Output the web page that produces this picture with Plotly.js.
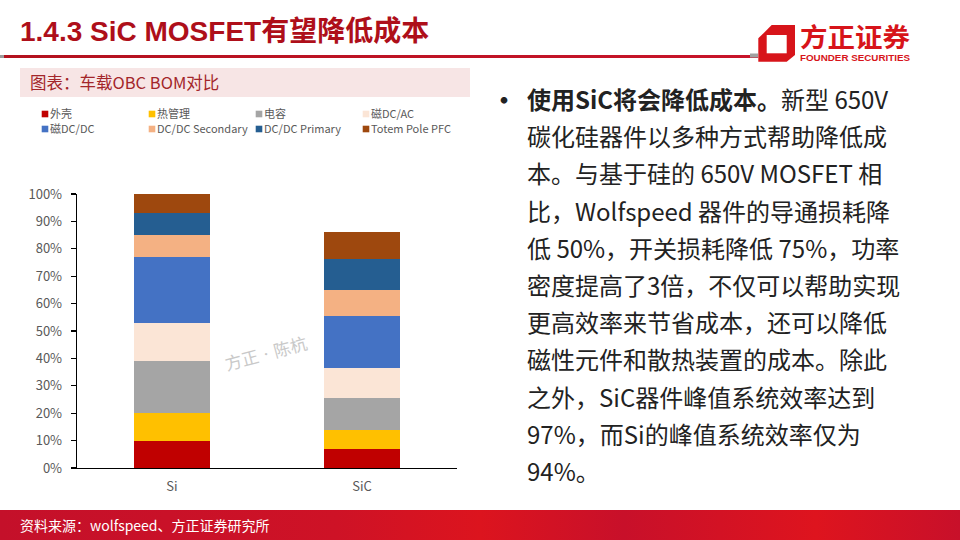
<!DOCTYPE html>
<html>
<head>
<meta charset="utf-8">
<script src="https://cdn.plot.ly/plotly-3.0.1.min.js"></script>
<style>
  html, body { margin:0; padding:0; width:960px; height:540px; overflow:hidden; background:#fff; font-family:"Noto Sans CJK SC","Noto Sans",sans-serif; }
  #title { position:absolute; left:20px; top:14px; font-family:"Liberation Sans","Noto Sans CJK SC",sans-serif; font-weight:bold; font-size:28px; color:#AE0F1A; white-space:nowrap; line-height:36px; }
  #rule { position:absolute; left:0; top:55px; width:758px; height:3px; background:linear-gradient(90deg,#9a9a9a 0,#9a9a9a 4px,#B3121E 4px,#C8142A 100%); }
  #subbox { position:absolute; left:20px; top:68px; width:450px; height:29px; background:#F7E5E5; }
  #subtitle { position:absolute; left:30px; top:68px; height:29px; line-height:29px; font-size:16.5px; color:#A3262A; white-space:nowrap; }
  #bullet { position:absolute; left:491px; top:80px; font-size:26px; line-height:37.2px; color:#222; font-weight:bold; }
  #body { position:absolute; left:527px; top:80px; font-size:24px; line-height:37.2px; color:#222; white-space:nowrap; }
  #footer { position:absolute; left:0; top:510px; width:960px; height:30px; background:linear-gradient(90deg,#C4102A 0%,#CE1226 35%,#DC141E 50%,#C8102A 65%,#DE141E 85%,#C8102A 100%); }
  #source { position:absolute; left:20px; top:510px; height:30px; line-height:30px; font-size:14px; color:#fff; white-space:nowrap; }
  #logo { position:absolute; left:0; top:0; }
  #chart { position:absolute; left:0; top:0; width:960px; height:540px; z-index:2; }
</style>
</head>
<body>
<div id="title">1.4.3 SiC MOSFET有望降低成本</div>
<div id="rule"></div>
<svg id="logo" width="960" height="80" viewBox="0 0 960 80">
  <rect x="750" y="53.5" width="8" height="4" fill="#a0a0a0"/>
  <path d="M771.7,25 L795,25 L795,55 L786.7,61.7 L758.3,61.7 L758.3,38.3 Z" fill="#D7141A"/>
  <rect x="766.7" y="35" width="20" height="18.3" fill="#fff"/>
  <text x="800" y="46.5" textLength="110" lengthAdjust="spacingAndGlyphs" font-family="Noto Sans CJK SC" font-weight="bold" font-size="26" fill="#D7141A">方正证券</text>
  <text x="800" y="61" textLength="110" lengthAdjust="spacingAndGlyphs" font-family="Liberation Sans" font-weight="bold" font-size="9.5" fill="#D7141A">FOUNDER SECURITIES</text>
</svg>
<div id="subbox"></div>
<div id="subtitle">图表：车载OBC BOM对比</div>
<div id="bullet">•</div>
<div id="body"><b>使用SiC将会降低成本。</b>新型 650V<br>碳化硅器件以多种方式帮助降低成<br>本。与基于硅的 650V MOSFET 相<br>比，Wolfspeed 器件的导通损耗降<br>低 50%，开关损耗降低 75%，功率<br>密度提高了3倍，不仅可以帮助实现<br>更高效率来节省成本，还可以降低<br>磁性元件和散热装置的成本。除此<br>之外，SiC器件峰值系统效率达到<br>97%，而Si的峰值系统效率仅为<br>94%。</div>
<div id="footer"></div>
<div id="source">资料来源：wolfspeed、方正证券研究所</div>
<div id="chart"></div>
<script>
// ---- data (percent of Si total BOM) ----
const categories = ['Si', 'SiC'];
const seriesNames = ['外壳', '热管理', '电容', '磁DC/AC', '磁DC/DC', 'DC/DC Secondary', 'DC/DC Primary', 'Totem Pole PFC'];
const waike = [10, 7];           // 外壳
const reGuanli = [10, 7];        // 热管理
const dianRong = [19, 11.4];     // 电容
const ciDCAC = [14, 11.2];       // 磁DC/AC
const ciDCDC = [24, 19];         // 磁DC/DC
const dcdcSecondary = [8, 9.5];  // DC/DC Secondary
const dcdcPrimary = [8, 11.2];   // DC/DC Primary
const totemPole = [7, 9.7];      // Totem Pole PFC
const yTickVals = [0, 10, 20, 30, 40, 50, 60, 70, 80, 90, 100];
const yTickText = yTickVals.map(v => v + '%');

const seriesValues = [waike, reGuanli, dianRong, ciDCAC, ciDCDC, dcdcSecondary, dcdcPrimary, totemPole];
const colors = ['#C00000', '#FFC000', '#A5A5A5', '#FBE5D6', '#4472C4', '#F4B183', '#255E91', '#9E480E'];

const traces = seriesNames.map((name, i) => ({
  type: 'bar',
  name: name,
  x: categories,
  y: seriesValues[i],
  marker: { color: colors[i], line: { width: 0 } },
  legend: i < 4 ? 'legend' : 'legend2',
  hoverinfo: 'skip'
}));

const legendCommon = {
  orientation: 'h',
  xref: 'paper', yref: 'paper',
  xanchor: 'left', yanchor: 'middle',
  x: (10 - 77) / 380,
  bgcolor: 'rgba(0,0,0,0)',
  font: { family: 'Noto Sans CJK SC, Noto Sans, sans-serif', size: 11, color: '#595959' },
  traceorder: 'normal',
  entrywidth: 62,
  entrywidthmode: 'pixels',
  itemclick: false, itemdoubleclick: false
};

const layout = {
  width: 960, height: 540,
  margin: { l: 77, r: 503, t: 194, b: 72, autoexpand: false },
  paper_bgcolor: 'rgba(0,0,0,0)',
  plot_bgcolor: 'rgba(0,0,0,0)',
  barmode: 'stack',
  bargap: 0.6,
  font: { family: 'Noto Sans CJK SC, Noto Sans, sans-serif', color: '#595959' },
  xaxis: {
    type: 'category',
    showline: true, linecolor: '#000', linewidth: 1.3,
    ticks: '', showgrid: false, zeroline: false,
    ticklabelstandoff: 6,
    tickfont: { size: 13, color: '#595959' }
  },
  yaxis: {
    range: [0, 100], tickmode: 'array', tickvals: yTickVals, ticktext: yTickText,
    showline: true, linecolor: '#000', linewidth: 1.3,
    ticks: 'outside', ticklen: 5, tickcolor: '#000', tickwidth: 1.3,
    ticklabelstandoff: 6,
    showgrid: false, zeroline: false,
    tickfont: { size: 13, color: '#595959' }
  },
  legend: Object.assign({}, legendCommon, { y: (468 - 114) / 274 }),
  legend2: Object.assign({}, legendCommon, { y: (468 - 129) / 274 }),
  annotations: [{
    xref: 'paper', yref: 'paper', x: 0.497, y: 0.332,
    text: '方正 · 陈杭', showarrow: false, textangle: -15,
    font: { family: 'DejaVu Serif, Noto Sans CJK SC, serif', size: 17, color: '#c9c9c9' }
  }]
};

Plotly.newPlot('chart', traces, layout, { staticPlot: true, displayModeBar: false }).then(() => {
  // small swatches close to their labels, as in the reference
  document.querySelectorAll('#chart .legendpoints path').forEach(p => {
    const t = p.getAttribute('transform') || '';
    p.setAttribute('transform', 'translate(15,0) ' + t + ' scale(0.55)');
  });
  // let the last legend label run past the computed legend box (both legends)
  document.querySelectorAll('#chart .scrollbox').forEach(s => s.removeAttribute('clip-path'));
  document.querySelectorAll('#chart .infolayer clipPath rect').forEach(r => {
    r.setAttribute('width', '600');
  });
});
</script>
</body>
</html>
